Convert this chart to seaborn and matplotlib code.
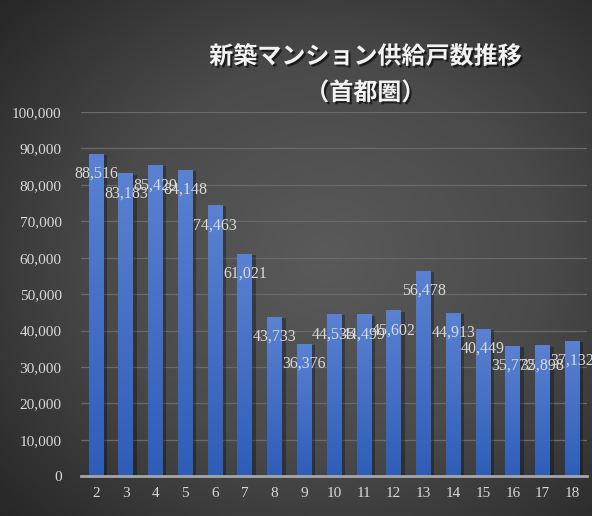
import numpy as np
import pandas as pd
import matplotlib
matplotlib.use("Agg")
import matplotlib.pyplot as plt
import matplotlib.patheffects as pe
from matplotlib.colors import LinearSegmentedColormap
import seaborn as sns

# data
years = [2, 3, 4, 5, 6, 7, 8, 9, 10, 11, 12, 13, 14, 15, 16, 17, 18]
supply = [88516, 83183, 85429, 84148, 74463, 61021, 43733, 36376, 44535,
          44499, 45602, 56478, 44913, 40449, 35772, 35898, 37132]
y_ticks = [0, 10000, 20000, 30000, 40000, 50000, 60000, 70000, 80000, 90000, 100000]
title_text = "新築マンション供給戸数推移\n（首都圏）"

df = pd.DataFrame({"year": [str(y) for y in years], "supply": supply})

sns.set_theme(style="dark")
plt.rcParams["font.family"] = ["Liberation Serif", "Noto Sans CJK JP", "DejaVu Sans"]

fig = plt.figure(figsize=(5.92, 5.16), dpi=100)

# radial gradient background
bg = fig.add_axes([0, 0, 1, 1], zorder=-10)
gx, gy = np.meshgrid(np.linspace(0, 1, 300), np.linspace(0, 1, 300))
r = np.sqrt(((gx - 0.55) / 0.75) ** 2 + ((gy - 0.5) / 0.75) ** 2)
bg_cmap = LinearSegmentedColormap.from_list("bg", ["#5a5a5a", "#4a4a4a", "#262626"])
bg.imshow(np.clip(r, 0, 1), cmap=bg_cmap, vmin=0, vmax=1, aspect="auto",
          extent=[0, 1, 0, 1], origin="upper")
bg.set_axis_off()

ax = fig.add_axes([0.137, 0.077, 0.855, 0.706])
ax.set_facecolor("none")

sns.barplot(data=df, x="year", y="supply", color="#4472c4", width=0.5,
            saturation=1, linewidth=0, ax=ax, zorder=3)

# blue vertical gradient on bars plus a soft shadow
bar_cmap = LinearSegmentedColormap.from_list("bar", ["#2e5db8", "#5b82d2"])
grad = np.linspace(0, 1, 256).reshape(-1, 1)
for patch in ax.patches:
    patch.set_edgecolor("none")
    patch.set_path_effects([pe.SimplePatchShadow(offset=(2.5, -1), shadow_rgbFace="black", alpha=0.3),
                            pe.Normal()])
    x0, w, h = patch.get_x(), patch.get_width(), patch.get_height()
    im = ax.imshow(grad, cmap=bar_cmap, aspect="auto", origin="lower",
                   extent=[x0, x0 + w, 0, h], zorder=4)
    im.set_clip_path(patch)

for i, v in enumerate(supply):
    ax.annotate(f"{v:,}", (i, v), xytext=(0, -14.5), textcoords="offset points",
                ha="center", va="center", fontsize=11.5, color="#d9d9d9", zorder=6)

ax.set_xlim(-0.5, len(years) - 0.5)
ax.set_ylim(0, 100000)
ax.set_yticks(y_ticks)
ax.set_yticklabels([f"{t:,}" for t in y_ticks])
ax.set_xlabel("")
ax.set_ylabel("")
ax.tick_params(axis="both", colors="#d9d9d9", labelsize=11, length=0)
ax.tick_params(axis="y", pad=14)
ax.tick_params(axis="x", pad=8)
ax.grid(axis="y", color="#6a6a6a", linewidth=0.9, zorder=0)
ax.grid(axis="x", visible=False)
for side in ["top", "right", "left"]:
    ax.spines[side].set_visible(False)
ax.spines["bottom"].set_color("#a6a6a6")
ax.spines["bottom"].set_linewidth(2)
ax.spines["bottom"].set_zorder(5)

fig.text(0.617, 0.855, title_text, ha="center", va="center", fontsize=17.3,
         fontweight="bold", color="#f2f2f2", linespacing=1.65,
         family=["Noto Sans CJK JP", "DejaVu Sans"],
         path_effects=[pe.SimplePatchShadow(offset=(1.5, -1.5), shadow_rgbFace="black", alpha=0.6),
                       pe.Normal()])

fig.savefig("out.png", dpi=100)
